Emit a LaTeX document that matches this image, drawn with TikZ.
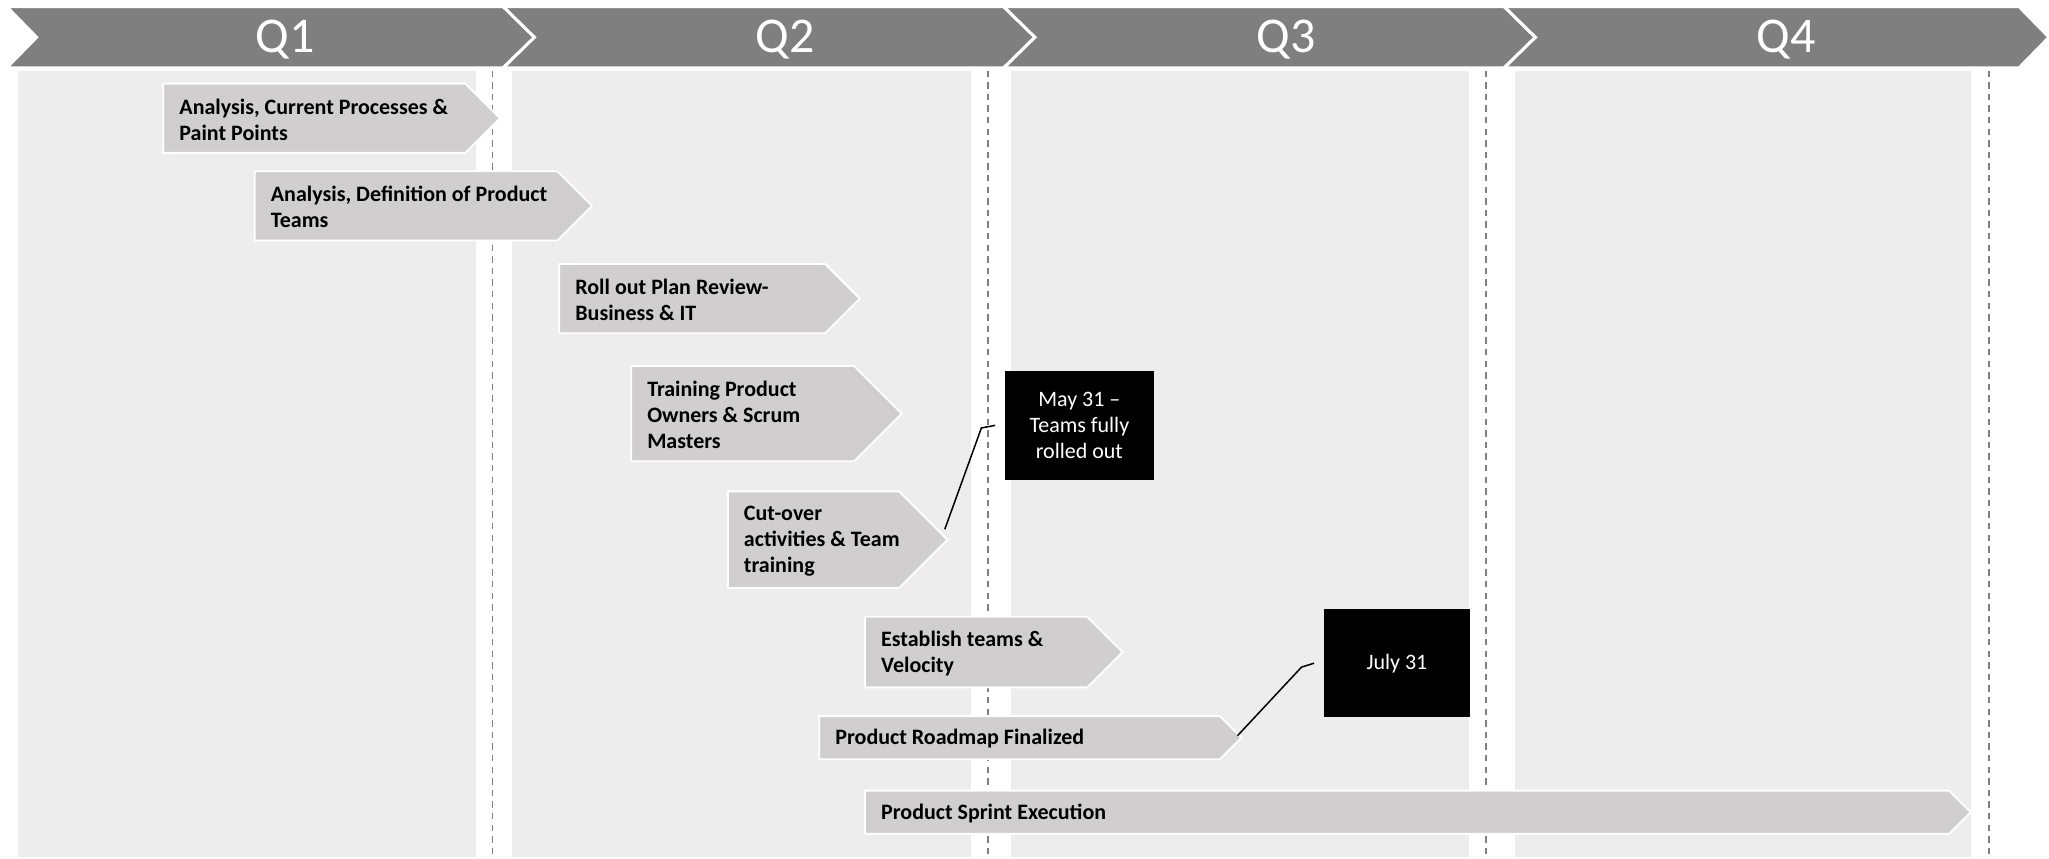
\documentclass[tikz,border=0pt]{standalone}
\usepackage{fontspec}
\setmainfont{Carlito}
\definecolor{hdrgray}{HTML}{7F7F7F}
\definecolor{colbg}{HTML}{EDEDED}
\definecolor{taskfill}{HTML}{D0CECE}
\definecolor{sepgray}{HTML}{808080}
\tikzset{
  hdr/.style={fill=hdrgray, draw=white, line width=1.5pt, line join=miter},
  colbox/.style={fill=colbg, draw=none},
  sepline/.style={draw=sepgray, dash pattern=on 3.2pt off 2.6pt, line width=0.75pt},
  task/.style={fill=taskfill, draw=white, line width=0.9pt, line join=miter},
  tasktext/.style={font=\bfseries\fontsize{11}{13}\selectfont, align=left, anchor=west, inner sep=0pt, text=black},
  qlabel/.style={font=\fontsize{25}{30}\selectfont, text=white, inner sep=0pt},
  milestone/.style={fill=black, text=white, font=\fontsize{11}{13}\selectfont, align=center, inner sep=0pt, minimum height=54.2pt},
  conn/.style={draw=black, line width=0.75pt}
}
\begin{document}
\begin{tikzpicture}[x=0.6534pt, y=-0.6534pt]
\useasboundingbox (0,0) rectangle (1568,657);
% columns
\fill[colbox] (14,54) rectangle (364,656);
\fill[colbox] (392,54) rectangle (743,656);
\fill[colbox] (774,54) rectangle (1124,656);
\fill[colbox] (1159,54) rectangle (1508,656);
% header chevrons
\draw[hdr] (5,5) -- (385,5) -- (409,28.5) -- (385,52) -- (5,52) -- (28,28.5) -- cycle;
\draw[hdr] (385,5) -- (768,5) -- (792,28.5) -- (768,52) -- (385,52) -- (409,28.5) -- cycle;
\draw[hdr] (768,5) -- (1151,5) -- (1175,28.5) -- (1151,52) -- (768,52) -- (792,28.5) -- cycle;
\draw[hdr] (1151,5) -- (1545,5) -- (1568,28.5) -- (1545,52) -- (1151,52) -- (1175,28.5) -- cycle;
\node[qlabel] (q1) at (218,30) {Q1};
\node[qlabel] (q2) at (601,30) {Q2};
\node[qlabel] (q3) at (984,30) {Q3};
\node[qlabel] (q4) at (1367,30) {Q4};
% dashed separators
\draw[sepline] (377,54) -- (377,657);
\draw[sepline] (756,54) -- (756,657);
\draw[sepline] (1137,54) -- (1137,657);
\draw[sepline] (1522,54) -- (1522,657);
% task arrows
\draw[task] (125,64) -- (356,64) -- (382.5,90.5) -- (356,117) -- (125,117) -- cycle;
\node[tasktext] (t1) at (137,91.5) {Analysis, Current Processes \&\\Paint Points};
\draw[task] (195,131) -- (426.5,131) -- (453,157.5) -- (426.5,184) -- (195,184) -- cycle;
\node[tasktext] (t2) at (207,158.5) {Analysis, Definition of Product\\Teams};
\draw[task] (428,202) -- (631.5,202) -- (658,228.5) -- (631.5,255) -- (428,255) -- cycle;
\node[tasktext] (t3) at (440,229.5) {Roll out Plan Review-\\Business \& IT};
\draw[task] (483,280) -- (653.5,280) -- (690,316.5) -- (653.5,353) -- (483,353) -- cycle;
\node[tasktext] (t4) at (495,317.5) {Training Product\\Owners \& Scrum\\Masters};
\draw[task] (557,376) -- (688,376) -- (725,413) coordinate (tip5) -- (688,450) -- (557,450) -- cycle;
\node[tasktext] (t5) at (569,414) {Cut-over\\activities \& Team\\training};
\draw[task] (662,472) -- (832,472) -- (859,499) -- (832,526) -- (662,526) -- cycle;
\node[tasktext] (t6) at (674,500) {Establish teams \&\\Velocity};
\draw[task] (627,548) -- (933.5,548) -- (950,564.5) coordinate (tip7) -- (933.5,581) -- (627,581) -- cycle;
\node[tasktext] (t7) at (639,565.5) {Product Roadmap Finalized};
\draw[task] (662,605) -- (1491.5,605) -- (1508,621.5) -- (1491.5,638) -- (662,638) -- cycle;
\node[tasktext] (t8) at (674,622.5) {Product Sprint Execution};
% milestones
\node[milestone, minimum width=74.5pt] (may) at (826,325.5) {May 31 --\\Teams fully\\rolled out};
\node[milestone, minimum width=73.2pt] (july) at (1069,507.5) {July 31};
% connectors
\coordinate (b1) at (751,327.5);
\coordinate (b2) at (996,510.5);
\draw[conn] ([shift={(-2,-8)}]tip5) -- (b1) -- ([xshift=-4.6pt]may.west);
\draw[conn] ([shift={(-3,-1.5)}]tip7) -- (b2) -- ([xshift=-4.6pt]july.west);
\end{tikzpicture}
\end{document}
